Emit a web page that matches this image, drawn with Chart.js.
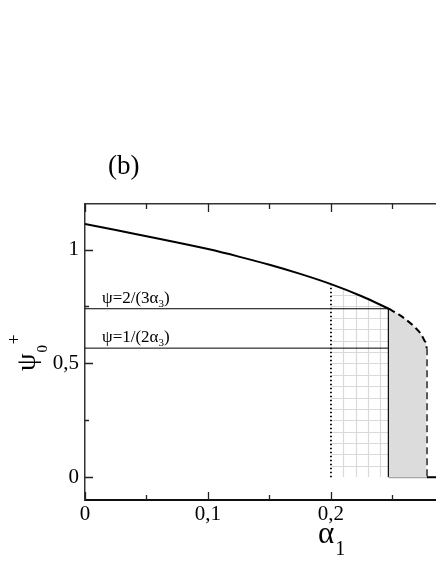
<!DOCTYPE html>
<html>
<head>
<meta charset="utf-8">
<script src="https://cdn.jsdelivr.net/npm/chart.js@4.4.1/dist/chart.umd.min.js"></script>
<style>
    html, body { margin: 0; padding: 0; background: #fff; overflow: hidden; }
    #wrap { width: 436px; height: 564px; }
</style>
</head>
<body>
<div id="wrap"><canvas id="chart" width="436" height="564"></canvas></div>
<script>
// main curve psi0+ (alpha1), solid part
const alphaCurve = [0, 0.025, 0.05, 0.075, 0.1, 0.125, 0.15, 0.175, 0.2, 0.225, 0.247];
const psiCurve = [1.112, 1.086, 1.058, 1.031, 1.002, 0.969, 0.933, 0.893, 0.848, 0.795, 0.74];

// dashed continuation
const alphaDashed = [0.247, 0.255, 0.262, 0.268, 0.273, 0.276, 0.2775, 0.2778];
const psiDashed = [0.74, 0.715, 0.688, 0.66, 0.63, 0.60, 0.582, 0.567];

// vertical marks and level lines
const alphaDotted = 0.2;
const alphaSolid = 0.247;
const alphaEnd = 0.2778;
const levelValues = [0.74, 0.567];
const levelEnds = [0.247, 0.2778];
const levelLabels = [['ψ=2/(3α', '3', ')'], ['ψ=1/(2α', '3', ')']];

// hatch grid steps
const hatchStepX = 0.01;
const hatchStepY = 0.05;

const xMax = 0.2854;
const serif = '"Liberation Serif", "Times New Roman", serif';

const toPts = (xs, ys) => xs.map((x, i) => ({x: x, y: ys[i]}));
const comma = v => String(Math.round(v * 100) / 100).replace('.', ',');

function lineSet(data, opts) {
    return Object.assign({
        data: data,
        borderColor: '#000',
        borderWidth: 1,
        pointRadius: 0,
        fill: false,
        tension: 0
    }, opts || {});
}

const datasets = [
    lineSet(toPts(alphaDashed, psiDashed), {
        borderWidth: 2, borderDash: [7, 4], fill: 'origin',
        backgroundColor: '#dcdcdc', cubicInterpolationMode: 'monotone'
    }),
    lineSet([{x: alphaEnd, y: psiDashed[psiDashed.length - 1]}, {x: alphaEnd, y: 0}], {
        borderWidth: 2, borderDash: [7, 4]
    }),
    lineSet([{x: alphaSolid, y: 0}, {x: alphaEnd, y: 0}], {borderColor: '#999', borderWidth: 2}),
    lineSet([{x: alphaEnd, y: 0}, {x: xMax, y: 0}], {borderWidth: 2}),
    lineSet([{x: alphaDotted, y: 0}, {x: alphaDotted, y: psiCurve[8]}], {
        borderWidth: 1.8, borderDash: [1.5, 2.5]
    }),
    lineSet([{x: alphaSolid, y: 0}, {x: alphaSolid, y: levelValues[0]}], {borderWidth: 2}),
    lineSet([{x: 0, y: levelValues[0]}, {x: levelEnds[0], y: levelValues[0]}]),
    lineSet([{x: 0, y: levelValues[1]}, {x: levelEnds[1], y: levelValues[1]}]),
    lineSet(toPts(alphaCurve, psiCurve), {borderWidth: 2, cubicInterpolationMode: 'monotone'})
];

// light grid between the dotted and solid verticals, under the curve
const hatchPlugin = {
    id: 'hatch',
    beforeDatasetsDraw(chart) {
        const ctx = chart.ctx;
        const xs = chart.scales.x, ys = chart.scales.y;
        const pts = chart.getDatasetMeta(8).data;
        ctx.save();
        ctx.beginPath();
        ctx.moveTo(xs.getPixelForValue(alphaDotted), ys.getPixelForValue(0));
        alphaCurve.forEach((a, i) => {
            if (a >= alphaDotted) ctx.lineTo(pts[i].x, pts[i].y);
        });
        ctx.lineTo(xs.getPixelForValue(alphaSolid), ys.getPixelForValue(0));
        ctx.closePath();
        ctx.clip();
        ctx.strokeStyle = '#d9d9d9';
        ctx.lineWidth = 1.2;
        ctx.beginPath();
        for (let a = alphaDotted + hatchStepX; a < alphaSolid; a += hatchStepX) {
            const px = Math.round(xs.getPixelForValue(a)) + 0.5;
            ctx.moveTo(px, ys.getPixelForValue(0));
            ctx.lineTo(px, ys.getPixelForValue(1.2));
        }
        for (let v = hatchStepY; v < 1; v += hatchStepY) {
            const py = Math.round(ys.getPixelForValue(v)) + 0.5;
            ctx.moveTo(xs.getPixelForValue(alphaDotted), py);
            ctx.lineTo(xs.getPixelForValue(alphaSolid), py);
        }
        ctx.stroke();
        ctx.restore();
    }
};

// inward tick marks on left, bottom and top
const tickPlugin = {
    id: 'inTicks',
    afterDraw(chart) {
        const ctx = chart.ctx;
        const area = chart.chartArea;
        ctx.save();
        ctx.strokeStyle = '#222';
        ctx.lineWidth = 1.3;
        ctx.beginPath();
        ['x', 'xTop'].forEach(id => {
            const s = chart.scales[id];
            s.ticks.forEach(t => {
                const major = Math.abs(t.value * 10 - Math.round(t.value * 10)) < 1e-6;
                const len = major ? 8 : 5;
                const px = Math.round(s.getPixelForValue(t.value)) + 0.5;
                if (id === 'x') { ctx.moveTo(px, area.bottom); ctx.lineTo(px, area.bottom - len); }
                else { ctx.moveTo(px, area.top); ctx.lineTo(px, area.top + len); }
            });
        });
        const y = chart.scales.y;
        y.ticks.forEach(t => {
            const major = Math.abs(t.value * 2 - Math.round(t.value * 2)) < 1e-6;
            const len = major ? 8 : 4;
            const py = Math.round(y.getPixelForValue(t.value)) + 0.5;
            ctx.moveTo(area.left, py);
            ctx.lineTo(area.left + len, py);
        });
        ctx.stroke();
        ctx.restore();
    }
};

// panel letter, level labels and axis titles
const textPlugin = {
    id: 'texts',
    afterDraw(chart) {
        const ctx = chart.ctx;
        const area = chart.chartArea;
        const xs = chart.scales.x, ys = chart.scales.y;
        ctx.save();
        ctx.fillStyle = '#000';
        ctx.textBaseline = 'alphabetic';
        ctx.textAlign = 'left';

        ctx.font = '27px ' + serif;
        ctx.fillText('(b)', area.left + 23, area.top - 30);

        levelValues.forEach((v, i) => {
            const lab = levelLabels[i];
            let x = area.left + 17;
            const base = ys.getPixelForValue(v) - 6;
            ctx.font = '17px ' + serif;
            ctx.fillText(lab[0], x, base);
            x += ctx.measureText(lab[0]).width;
            ctx.font = '11px ' + serif;
            ctx.fillText(lab[1], x, base + 4);
            x += ctx.measureText(lab[1]).width;
            ctx.font = '17px ' + serif;
            ctx.fillText(lab[2], x, base);
        });

        // x title alpha_1
        const cx = xs.getPixelForValue(0.2);
        ctx.font = '31px ' + serif;
        ctx.fillText('α', cx - 13, 543);
        const aw = ctx.measureText('α').width;
        ctx.font = '20px ' + serif;
        ctx.fillText('1', cx - 13 + aw + 1, 555);

        // y title psi_0^+
        ctx.translate(35, 371);
        ctx.rotate(-Math.PI / 2);
        ctx.font = '28px ' + serif;
        ctx.fillText('ψ', 0, 0);
        const pw = ctx.measureText('ψ').width;
        ctx.font = '15px ' + serif;
        ctx.fillText('0', pw + 1, 12);
        ctx.font = '18px ' + serif;
        ctx.fillText('+', pw + 9, -15);
        ctx.restore();
    }
};

const tickFont = {family: serif, size: 21};

new Chart(document.getElementById('chart'), {
    type: 'line',
    data: {datasets: datasets},
    options: {
        responsive: false,
        animation: false,
        layout: {padding: 0},
        plugins: {legend: {display: false}, tooltip: {enabled: false}, title: {display: false}},
        scales: {
            x: {
                type: 'linear', position: 'bottom', min: 0, max: xMax,
                afterFit(s) { s.height = 64; },
                grid: {drawOnChartArea: false, drawTicks: false},
                border: {color: '#111', width: 2},
                ticks: {
                    stepSize: 0.05, includeBounds: false, autoSkip: false, maxRotation: 0,
                    padding: 2, color: '#000', font: tickFont,
                    callback: v => Math.abs(v * 10 - Math.round(v * 10)) < 1e-6 ? comma(v) : ''
                }
            },
            xTop: {
                type: 'linear', position: 'top', min: 0, max: xMax,
                afterFit(s) { s.height = 204; },
                grid: {drawOnChartArea: false, drawTicks: false},
                border: {color: '#333', width: 1.5},
                ticks: {stepSize: 0.05, includeBounds: false, display: false}
            },
            y: {
                type: 'linear', min: -0.1, max: 1.2,
                afterFit(s) { s.width = 85; },
                grid: {drawOnChartArea: false, drawTicks: false},
                border: {color: '#333', width: 1.5},
                ticks: {
                    stepSize: 0.25, includeBounds: false, padding: 6, color: '#000', font: tickFont,
                    callback: v => Math.abs(v * 2 - Math.round(v * 2)) < 1e-6 ? comma(v) : ''
                }
            }
        }
    },
    plugins: [hatchPlugin, tickPlugin, textPlugin]
});
</script>
</body>
</html>
